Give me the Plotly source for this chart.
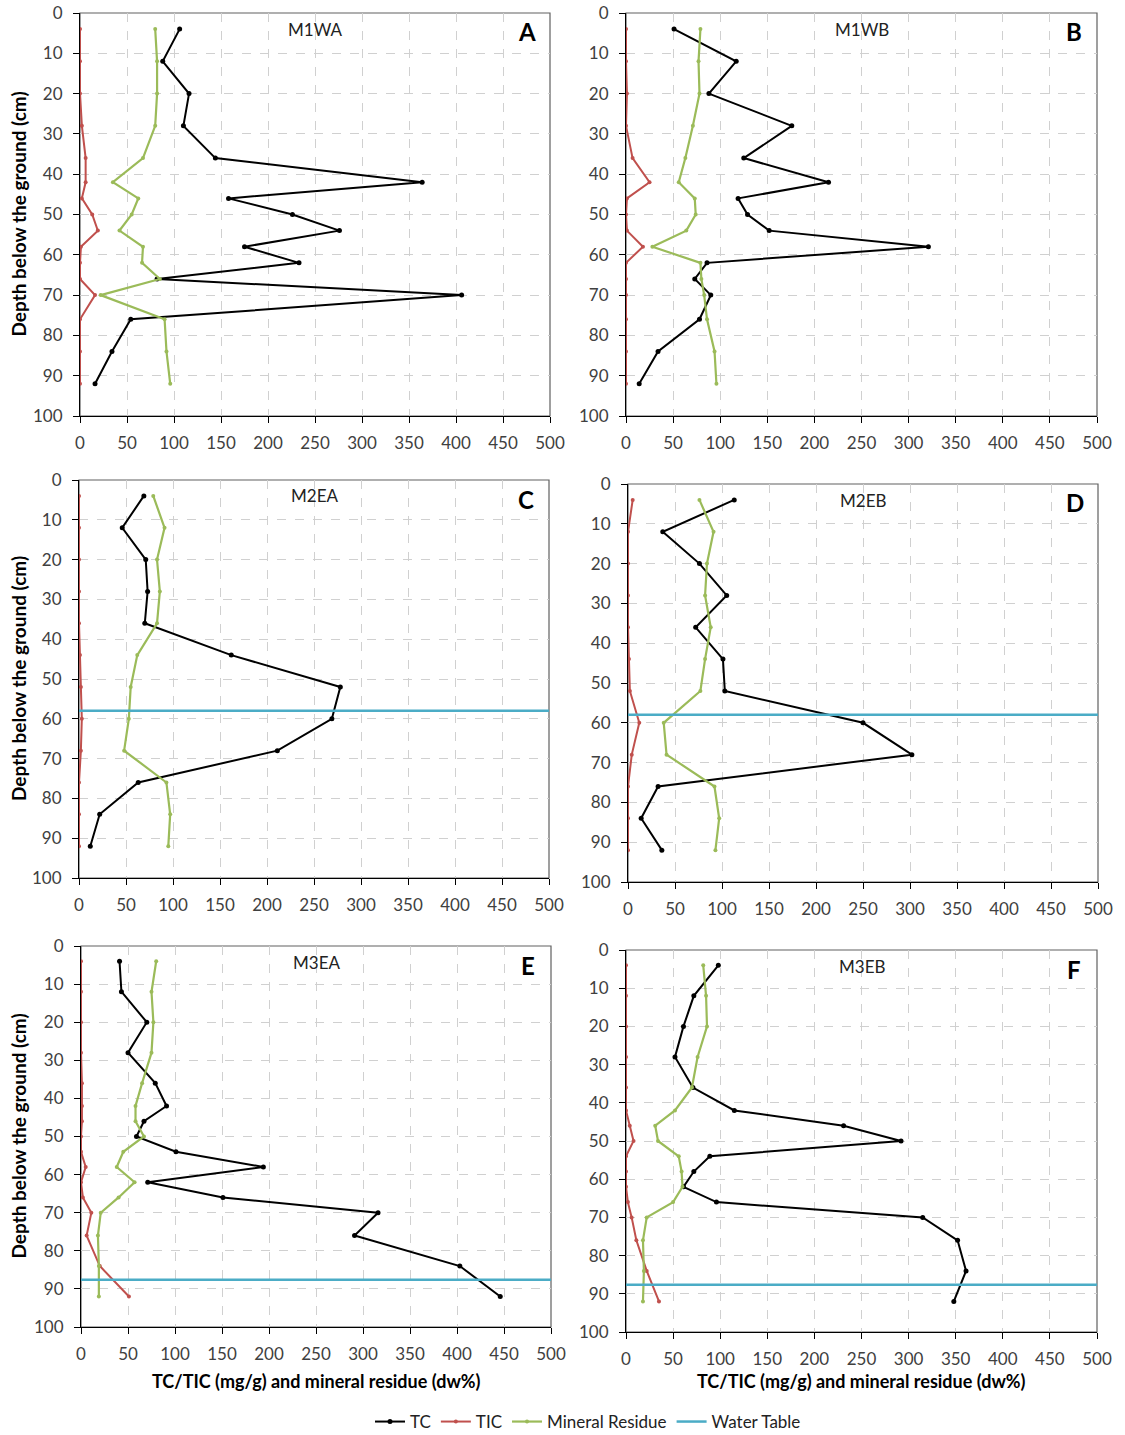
import plotly.graph_objects as go

W, H = 1125, 1435

# ---------------- data ----------------
depth_16 = [4, 12, 20, 28, 36, 42, 46, 50, 54, 58, 62, 66, 70, 76, 84, 92]
depth_12 = [4, 12, 20, 28, 36, 44, 52, 60, 68, 76, 84, 92]

panel_names = ["M1WA", "M1WB", "M2EA", "M2EB", "M3EA", "M3EB"]
panel_letters = ["A", "B", "C", "D", "E", "F"]

tc_A = [106, 88, 116, 110, 144, 364, 158, 226, 276, 175, 233, 82, 406, 54, 34, 16]
tic_A = [0, 0, 0, 2, 6, 6, 2, 13, 19, 1, 0, 0, 16, 0, 0, 0]
min_A = [80, 82, 82, 80, 67, 35, 62, 55, 42, 67, 66, 85, 22, 90, 92, 96]

tc_B = [51, 117, 88, 176, 125, 215, 119, 129, 152, 321, 86, 73, 90, 78, 34, 14]
tic_B = [0, 0, 1, 0, 7, 25, 1, 0, 1, 18, 0, 0, 0, 0, 0, 0]
min_B = [79, 77, 78, 71, 63, 56, 73, 74, 64, 28, 79, 80, 83, 86, 94, 96]

tc_C = [69, 46, 71, 73, 70, 162, 278, 269, 211, 63, 22, 12]
tic_C = [0, 0, 0, 0, 0, 1, 2, 3, 2, 0, 0, 0]
min_C = [79, 91, 83, 86, 83, 62, 55, 53, 48, 93, 97, 95]

tc_D = [113, 37, 76, 105, 72, 101, 103, 250, 302, 32, 14, 36]
tic_D = [5, 0, 0, 0, 0, 1, 2, 12, 4, 0, 0, 0]
min_D = [76, 91, 84, 82, 88, 82, 77, 38, 41, 92, 97, 93]

tc_E = [41, 43, 70, 50, 79, 91, 67, 59, 101, 194, 71, 151, 316, 291, 403, 446]
tic_E = [0, 0, 0, 0, 1, 1, 1, 0, 0, 5, 0, 2, 11, 6, 20, 51]
min_E = [80, 75, 77, 75, 65, 58, 58, 67, 45, 38, 57, 40, 21, 18, 19, 19]

tc_F = [98, 72, 61, 52, 71, 115, 231, 292, 89, 72, 61, 96, 315, 352, 361, 348]
tic_F = [0, 0, 0, 0, 0, 0, 4, 8, 0, 0, 0, 2, 6, 11, 22, 35]
min_F = [82, 85, 86, 76, 70, 52, 31, 34, 56, 59, 60, 50, 22, 18, 19, 18]

# water table depth (cm) per panel; None = not shown
water_table = [None, None, 58, 58, 87.6, 87.6]

x_range = [0, 500]
y_range = [100, 0]

depths = [depth_16, depth_16, depth_12, depth_12, depth_16, depth_16]
tcs = [tc_A, tc_B, tc_C, tc_D, tc_E, tc_F]
tics = [tic_A, tic_B, tic_C, tic_D, tic_E, tic_F]
mins = [min_A, min_B, min_C, min_D, min_E, min_F]

# ---------------- layout geometry (pixels) ----------------
# (left, right, top, bottom) of each plot area
boxes = [
    (80, 550, 13, 416),
    (626, 1097, 13, 416),
    (79, 549, 480, 878),
    (628, 1098, 484, 882),
    (81, 551, 946, 1327),
    (626, 1097, 950, 1332),
]

C_TC = "#000000"
C_TIC = "#C0504D"
C_MIN = "#9BBB59"
C_WT = "#4BACC6"
FONT = "Lato"
TICK_COLOR = "#404040"

fig = go.Figure()

for i in range(6):
    ax = "" if i == 0 else str(i + 1)
    xr, yr = "x" + ax, "y" + ax
    first = i == 0
    fig.add_trace(go.Scatter(
        x=tcs[i], y=depths[i], mode="lines+markers", name="TC",
        line=dict(color=C_TC, width=2), marker=dict(color=C_TC, size=5),
        xaxis=xr, yaxis=yr, showlegend=first, legendgroup="TC"))
    fig.add_trace(go.Scatter(
        x=tics[i], y=depths[i], mode="lines+markers", name="TIC",
        line=dict(color=C_TIC, width=2), marker=dict(color=C_TIC, size=4),
        xaxis=xr, yaxis=yr, showlegend=first, legendgroup="TIC"))
    fig.add_trace(go.Scatter(
        x=mins[i], y=depths[i], mode="lines+markers", name="Mineral Residue",
        line=dict(color=C_MIN, width=2.2), marker=dict(color=C_MIN, size=4),
        xaxis=xr, yaxis=yr, showlegend=first, legendgroup="MIN"))
    wt = water_table[i]
    if wt is not None:
        fig.add_trace(go.Scatter(
            x=x_range, y=[wt, wt], mode="lines", name="Water Table",
            line=dict(color=C_WT, width=2.5),
            xaxis=xr, yaxis=yr, showlegend=(i == 2), legendgroup="WT"))

    l, r, t, b = boxes[i]
    axis_common = dict(
        showline=True, linecolor="#000000", linewidth=1, mirror=False,
        showgrid=True, gridcolor="#D0D0D0", griddash="dash", gridwidth=1,
        zeroline=False, ticks="outside", ticklen=6, tickcolor="#000000",
        tickfont=dict(family=FONT, size=17, color=TICK_COLOR),
        automargin=False,
    )
    fig.update_layout(**{
        "xaxis" + ax: dict(axis_common, domain=[l / W, r / W], anchor=yr,
                           range=x_range, dtick=50, tick0=0, ticklabelstandoff=6),
        "yaxis" + ax: dict(axis_common, domain=[1 - b / H, 1 - t / H], anchor=xr,
                           range=y_range, dtick=10, tick0=0, ticklabelstandoff=7),
    })
    # grey frame around the plot area (top / right edges)
    fig.add_shape(type="rect", xref=xr + " domain", yref=yr + " domain",
                  x0=0, x1=1, y0=0, y1=1, layer="below",
                  line=dict(color="#606060", width=1.2))

    cx = (l + r) / 2
    fig.add_annotation(x=cx / W, y=1 - (t + 16) / H, xref="paper", yref="paper",
                       xanchor="center", yanchor="middle",
                       text=panel_names[i], showarrow=False,
                       font=dict(family=FONT, size=17, color="#222222"))
    fig.add_annotation(x=(r - 23) / W, y=1 - (t + 19) / H, xref="paper", yref="paper",
                       xanchor="center", yanchor="middle",
                       text="<b>" + panel_letters[i] + "</b>", showarrow=False,
                       font=dict(family=FONT, size=24, color="#000000"))
    if i % 2 == 0:
        fig.add_annotation(x=18 / W, y=1 - ((t + b) / 2) / H, xref="paper", yref="paper",
                           xanchor="center", yanchor="middle",
                           text="<b>Depth below the ground (cm)</b>", textangle=-90,
                           showarrow=False,
                           font=dict(family=FONT, size=19, color="#000000"))
    if i >= 4:
        fig.add_annotation(x=cx / W, y=1 - 1381 / H, xref="paper", yref="paper",
                           xanchor="center", yanchor="middle",
                           text="<b>TC/TIC (mg/g) and mineral residue (dw%)</b>",
                           showarrow=False,
                           font=dict(family=FONT, size=18, color="#000000"))

fig.update_layout(
    width=W, height=H,
    margin=dict(l=0, r=0, t=0, b=0, autoexpand=False),
    paper_bgcolor="white", plot_bgcolor="white",
    font=dict(family=FONT, size=16, color="#222222"),
    legend=dict(orientation="h", x=588 / W, xanchor="center", y=1 - 1422 / H, yanchor="middle",
                font=dict(family=FONT, size=17, color="#222222"),
                traceorder="normal", itemwidth=30),
)

fig.write_html("out.html")
